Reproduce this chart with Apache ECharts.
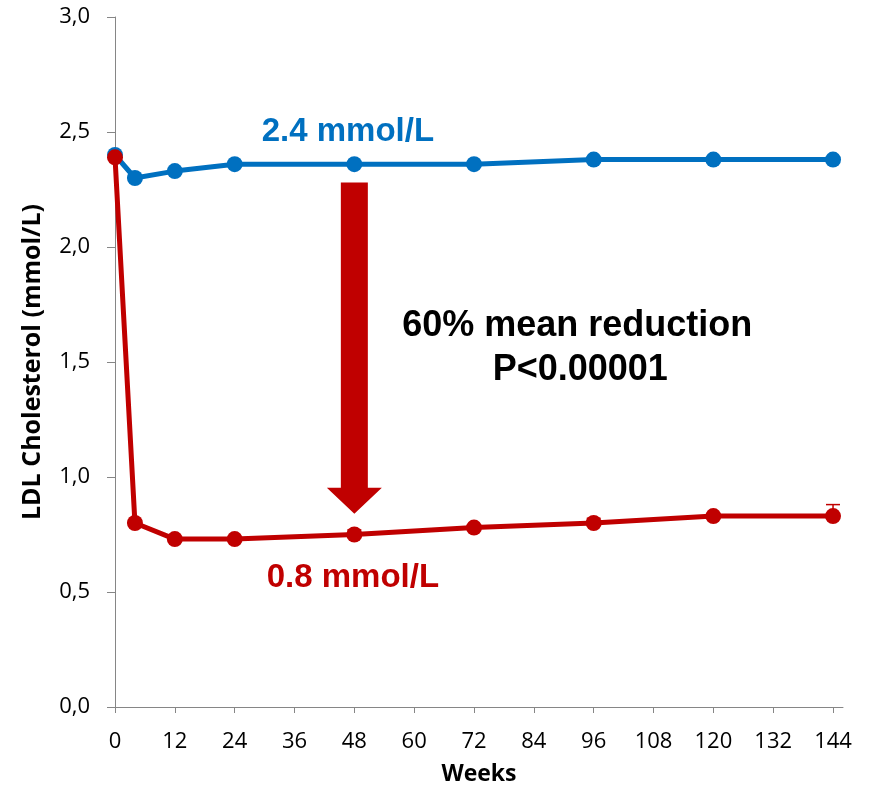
<!DOCTYPE html>
<html>
<head>
<meta charset="utf-8">
<script src="https://cdn.jsdelivr.net/npm/echarts@6/dist/echarts.min.js"></script>
<style>
  html, body { margin: 0; background: #fff; }
  #chart { width: 870px; height: 788px; }
</style>
</head>
<body>
<div id="chart"></div>
<script>
// ---- data ----
const weeks = [0, 4, 12, 24, 48, 72, 96, 120, 144];
const ldlStandard = [2.40, 2.30, 2.33, 2.36, 2.36, 2.36, 2.38, 2.38, 2.38];
const ldlTreated = [2.39, 0.80, 0.73, 0.73, 0.75, 0.78, 0.80, 0.83, 0.83];
const treatedErrUp = [0, 0, 0, 0, 0.02, 0, 0.02, 0, 0.05];
const xTicks = [0, 12, 24, 36, 48, 60, 72, 84, 96, 108, 120, 132, 144];

// arrow: week, from, to
const arrow = [48, 2.28, 0.84];

// annotations [week, value]
const noteText = ['2.4 mmol/L', '0.8 mmol/L', '60% mean reduction', 'P<0.00001'];
const notePos = [[46.7, 2.50], [47.7, 0.56], [92.7, 1.657], [93.3, 1.465]];
const noteColor = ['#0070C0', '#C00000', '#000', '#000'];
const noteSize = [33, 33, 36, 36];

const BLUE = '#0070C0';
const RED = '#C00000';
const AXIS = '#868686';
const AX_FONT = '"Open Sans", "Liberation Sans", sans-serif';

const chart = echarts.init(document.getElementById('chart'));

const pairs = vals => weeks.map((w, i) => [w, vals[i]]);

chart.setOption({
  animation: false,
  backgroundColor: '#fff',
  grid: { left: 115, right: 27, top: 17, bottom: 81, outerBoundsMode: 'none', containLabel: false },
  xAxis: {
    type: 'value',
    min: 0,
    max: 146,
    name: 'Weeks',
    nameLocation: 'middle',
    nameGap: 56,
    nameTextStyle: { fontFamily: AX_FONT, fontWeight: 'bold', fontSize: 23, color: '#000' },
    axisLine: { show: true, lineStyle: { color: AXIS, width: 1 } },
    axisTick: { show: true, length: 6, customValues: xTicks, lineStyle: { color: AXIS } },
    axisLabel: { customValues: xTicks, margin: 24, fontFamily: AX_FONT, fontSize: 22, color: '#000' },
    splitLine: { show: false }
  },
  yAxis: {
    type: 'value',
    min: 0,
    max: 3,
    interval: 0.5,
    name: 'LDL Cholesterol (mmol/L)',
    nameLocation: 'middle',
    nameGap: 70,
    nameTextStyle: { fontFamily: AX_FONT, fontWeight: 'bold', fontSize: 25, color: '#000' },
    axisLine: { show: true, lineStyle: { color: AXIS, width: 1 } },
    axisTick: { show: true, length: 8, lineStyle: { color: AXIS } },
    axisLabel: {
      margin: 25, fontFamily: AX_FONT, fontSize: 22, color: '#000',
      formatter: v => v.toFixed(1).replace('.', ',')
    },
    splitLine: { show: false }
  },
  series: [
    {
      name: 'arrow',
      type: 'custom',
      z: 1,
      data: [arrow],
      renderItem: (params, api) => {
        const top = api.coord([api.value(0), api.value(1)]);
        const tip = api.coord([api.value(0), api.value(2)]);
        const sw = 13.5, hw = 27.5, hl = 26;
        const cx = top[0];
        return {
          type: 'polygon',
          shape: {
            points: [
              [cx - sw, top[1]], [cx + sw, top[1]], [cx + sw, tip[1] - hl],
              [cx + hw, tip[1] - hl], [cx, tip[1]], [cx - hw, tip[1] - hl],
              [cx - sw, tip[1] - hl]
            ]
          },
          style: { fill: RED }
        };
      }
    },
    {
      name: 'Standard',
      type: 'line',
      z: 3,
      data: pairs(ldlStandard),
      color: BLUE,
      lineStyle: { width: 5, color: BLUE },
      symbol: 'circle',
      symbolSize: 16,
      itemStyle: { color: BLUE }
    },
    {
      name: 'errors',
      type: 'custom',
      z: 6,
      data: weeks.map((w, i) => [w, ldlTreated[i], treatedErrUp[i]]),
      renderItem: (params, api) => {
        const e = api.value(2);
        if (!e) return null;
        const p0 = api.coord([api.value(0), api.value(1)]);
        const p1 = api.coord([api.value(0), api.value(1) + e]);
        return {
          type: 'group',
          children: [
            { type: 'line', shape: { x1: p0[0], y1: p0[1], x2: p1[0], y2: p1[1] }, style: { stroke: RED, lineWidth: 1.5 } },
            { type: 'line', shape: { x1: p1[0] - 7, y1: p1[1], x2: p1[0] + 7, y2: p1[1] }, style: { stroke: RED, lineWidth: 1.5 } }
          ]
        };
      }
    },
    {
      name: 'Treated',
      type: 'line',
      z: 5,
      data: pairs(ldlTreated),
      color: RED,
      lineStyle: { width: 5, color: RED },
      symbol: 'circle',
      symbolSize: 16,
      itemStyle: { color: RED }
    },
    {
      name: 'notes',
      type: 'custom',
      z: 7,
      data: notePos,
      renderItem: (params, api) => {
        const p = api.coord([api.value(0), api.value(1)]);
        const i = params.dataIndex;
        return {
          type: 'text',
          x: p[0],
          y: p[1],
          style: {
            text: noteText[i],
            fill: noteColor[i],
            font: 'bold ' + noteSize[i] + 'px "Liberation Sans", Arial, sans-serif',
            align: 'center',
            verticalAlign: 'middle'
          }
        };
      }
    }
  ]
});
</script>
</body>
</html>
